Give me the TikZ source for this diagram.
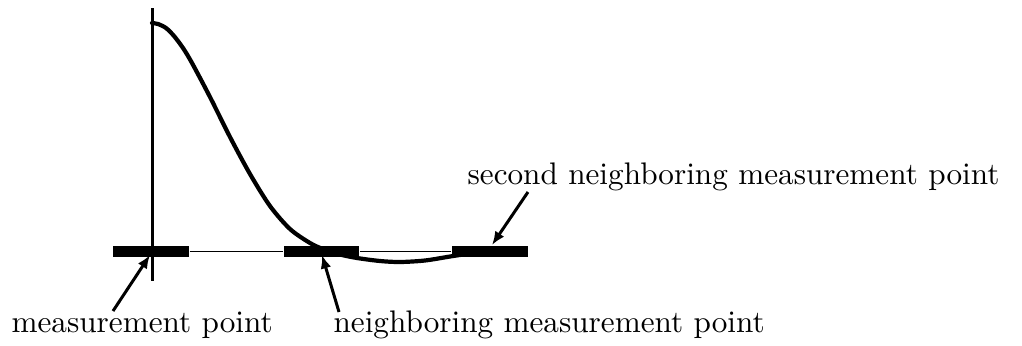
\documentclass[tikz,border=0pt]{standalone}
\usetikzlibrary{arrows.meta}
\begin{document}
\begin{tikzpicture}[x=0.3333pt,y=-0.3333pt,
  bar/.style={fill=black,draw=none,inner sep=0pt,minimum width=25.3pt,minimum height=3.7pt},
  lbl/.style={inner sep=0pt,anchor=base west,font=\fontsize{10.4}{12}\selectfont},
  arr/.style={line width=1pt,-{Latex[length=4.5pt,width=3.6pt]}},
  axisline/.style={line width=1pt},
  baseline/.style={line width=0.65pt},
  response/.style={line width=1.4pt,line join=round,line cap=round}]
\useasboundingbox (0,0) rectangle (1022,345);

% measurement points on the baseline
\node[bar] (p0) at (151,251.5) {};
\node[bar] (p1) at (321.5,251.5) {};
\node[bar] (p2) at (490,251.5) {};

% vertical axis through the measurement point
\coordinate (atop) at (152,8);
\coordinate (abot) at (152,281);
\draw[axisline] (atop) -- (abot);

% thin baseline joining the points
\draw[baseline] (p0.east) -- (p1.west);
\draw[baseline] (p1.east) -- (p2.west);

% response curve
\draw[response] plot[smooth,tension=0.5] coordinates {
  (152,23) (158,24) (166,28) (174,36) (183,48) (192,63) (210,97)
  (230,137) (250,174) (270,206) (290,229) (310,243) (323,249)
  (340,254.5) (357,258) (380,261) (400,262) (425,260.5) (450,256.5)
  (470,253.5) (485,252)};

% labels
\node[lbl] (t0) at (11,332) {measurement point};
\node[lbl] (t1) at (333,332) {neighboring measurement point};
\node[lbl] (t2) at (467,184) {second neighboring measurement point};

% pointers from labels to points
\coordinate (s0) at (113,311);
\coordinate (e0) at (150,255);
\coordinate (s1) at (339,312);
\coordinate (e1) at (322,255);
\coordinate (s2) at (528,192);
\coordinate (e2) at (492,245);
\draw[arr] (s0) -- (e0);
\draw[arr] (s1) -- (e1);
\draw[arr] (s2) -- (e2);
\end{tikzpicture}
\end{document}
